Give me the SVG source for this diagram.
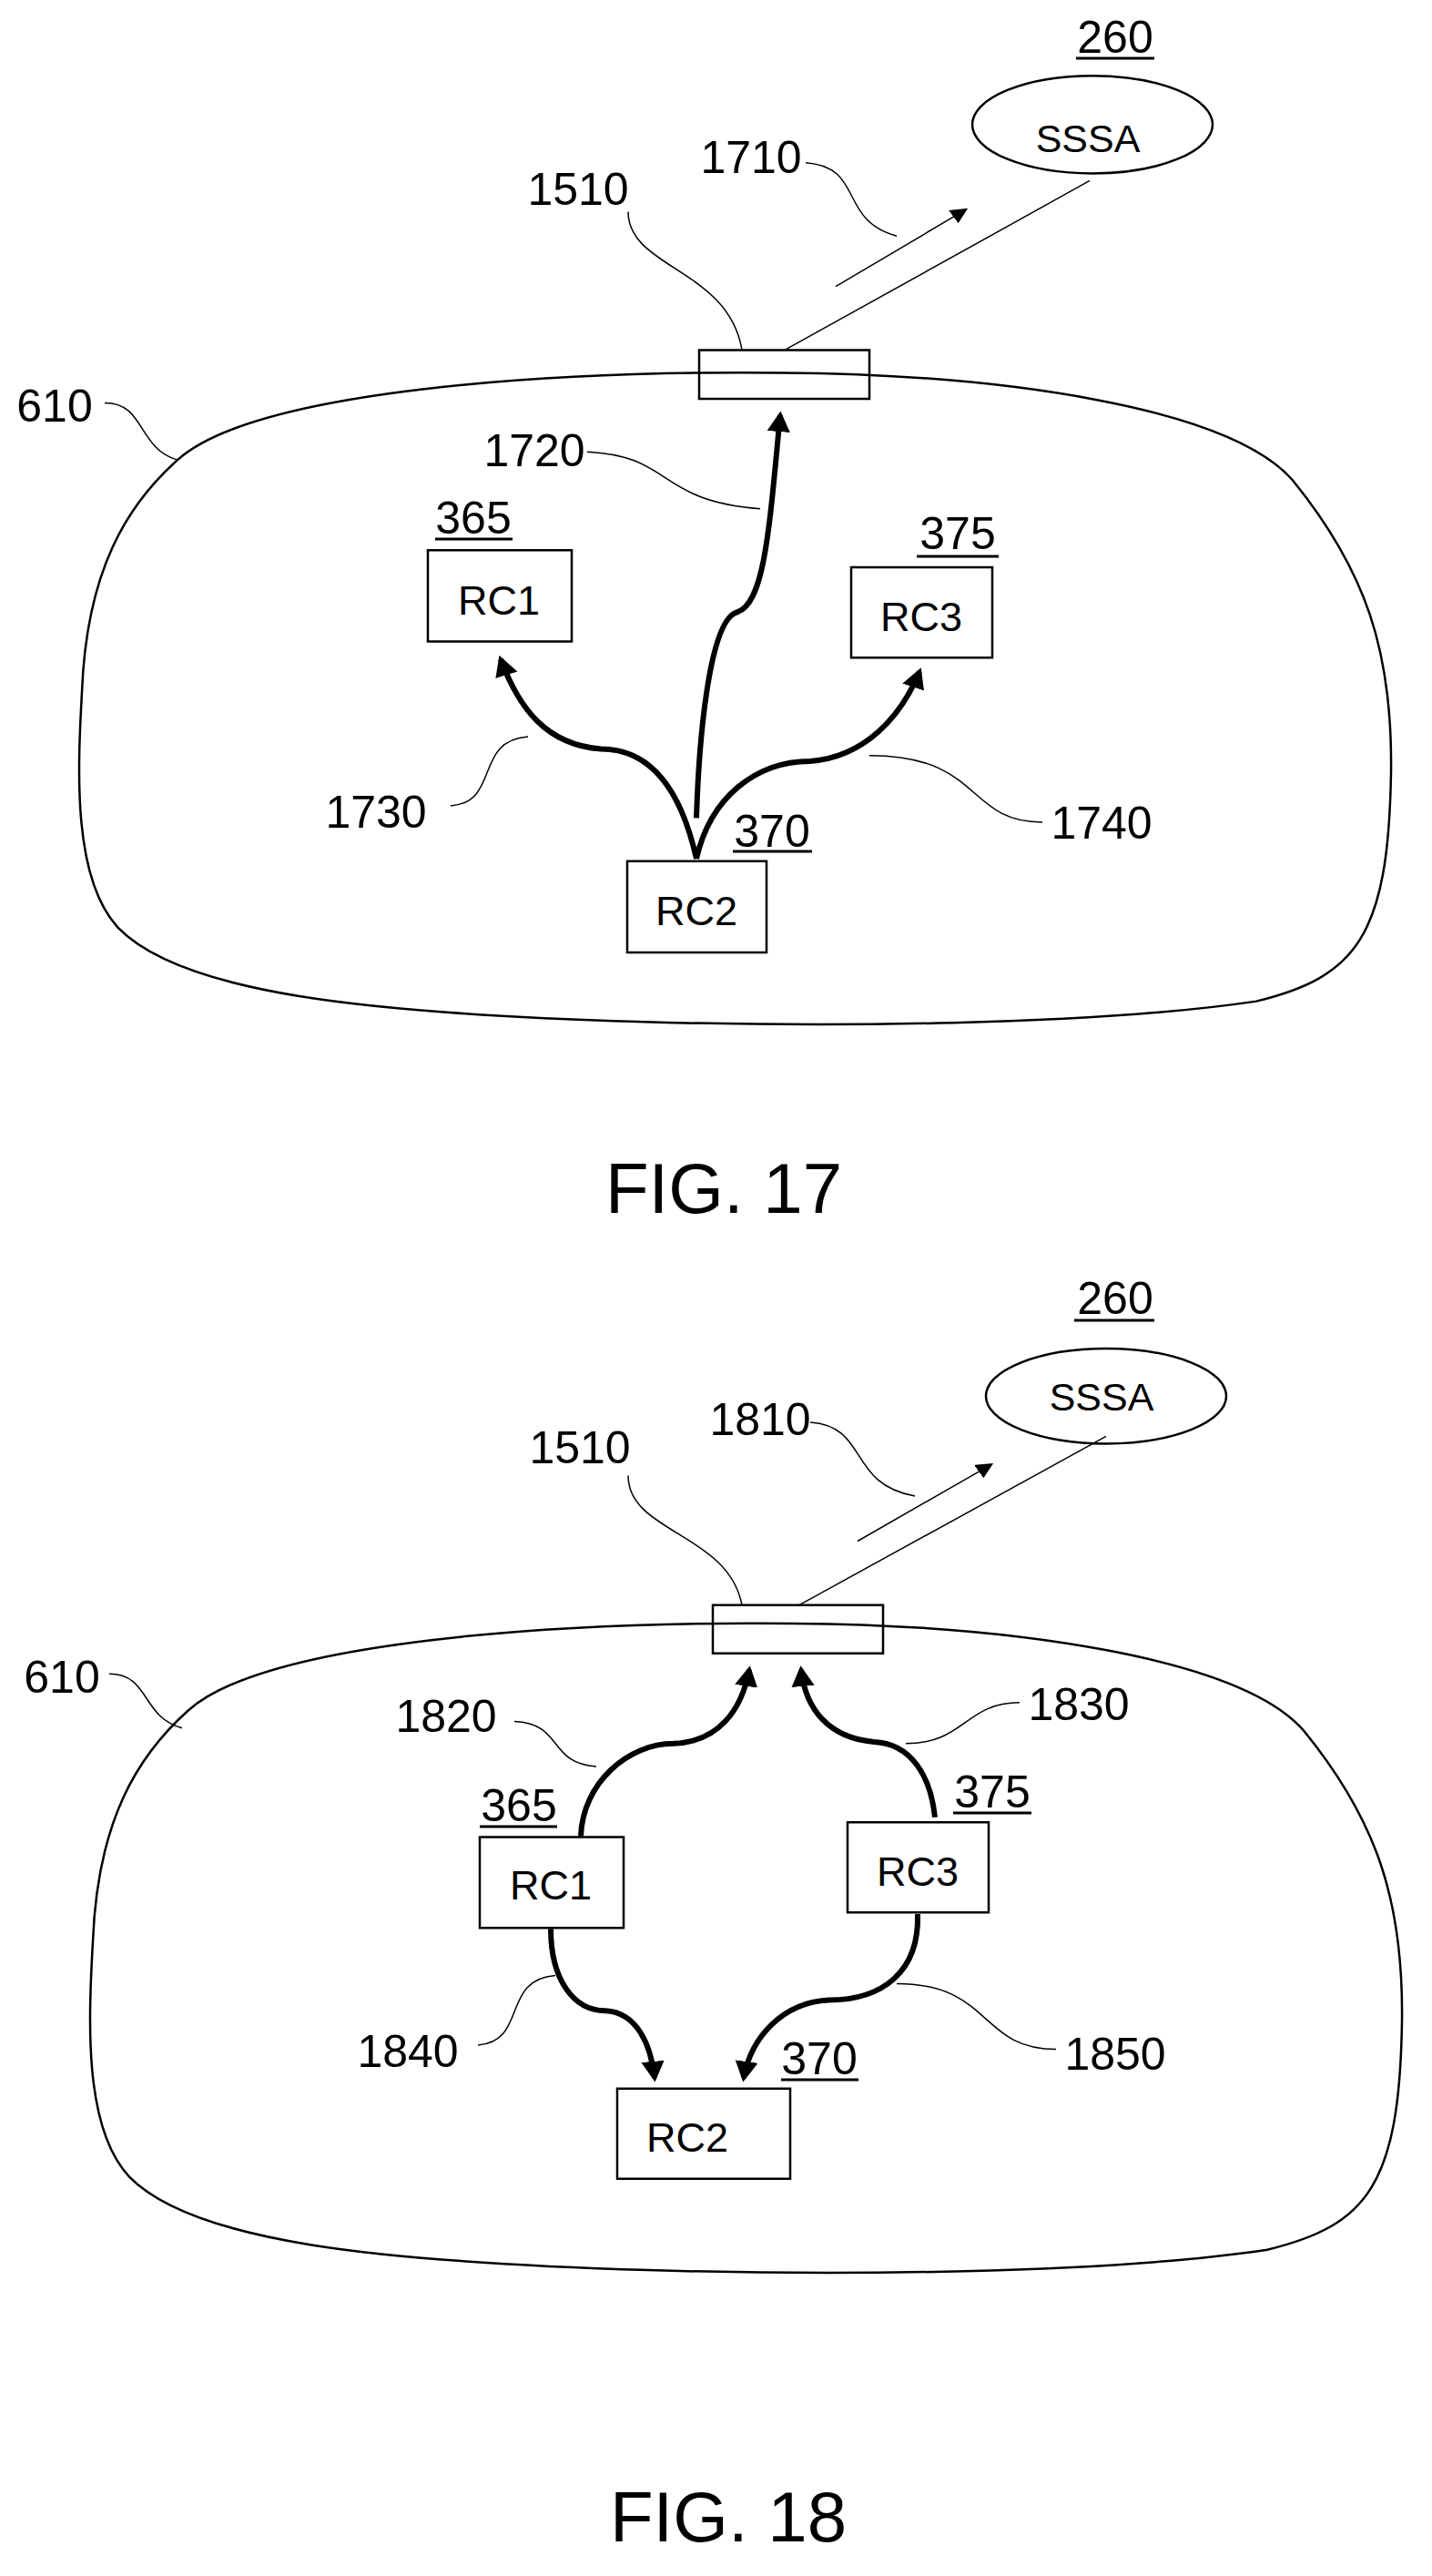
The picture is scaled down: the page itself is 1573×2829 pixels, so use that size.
<svg xmlns="http://www.w3.org/2000/svg" width="1573" height="2829" viewBox="0 0 1573 2829">
<style>
.t{font-family:"Liberation Sans",Arial,sans-serif;font-size:50px;fill:#000;text-anchor:middle}
.b{font-size:45px}.s{font-size:43px}.f{font-size:78px}
.ln{fill:none;stroke:#000;stroke-width:2.5;vector-effect:non-scaling-stroke}
.th{fill:none;stroke:#000;stroke-width:1.5;vector-effect:non-scaling-stroke}
.ar{fill:none;stroke:#000;stroke-width:6;vector-effect:non-scaling-stroke;marker-end:url(#a)}
.bx{fill:#fff;stroke:#000;stroke-width:2.5;vector-effect:non-scaling-stroke}
.u{stroke:#000;stroke-width:3}
</style>
<defs>
<marker id="a" viewBox="0 0 10 10" refX="8" refY="5" markerWidth="4" markerHeight="4" orient="auto" markerUnits="strokeWidth"><path d="M0,0 L10,5 L0,10 z"/></marker>
<marker id="a2" viewBox="0 0 10 10" refX="8" refY="5" markerWidth="12" markerHeight="12" orient="auto" markerUnits="strokeWidth"><path d="M0,0 L10,5 L0,10 z"/></marker>
</defs>
<g id="fig17" transform="scale(1,0.894)">
<g id="connectors17">
<path class="ln" d="M195,565 C280,480 600,455 860,458 C1100,460 1350,500 1420,590 C1500,700 1530,800 1528,950 C1525,1150 1490,1200 1380,1230 C1200,1260 900,1262 700,1255 C400,1245 200,1220 130,1140 C80,1080 85,950 90,850 C95,700 140,620 195,565 Z"/>
<path class="th" d="M115,495 C160,495 150,550 195,565"/>
<path class="th" d="M690,260 C690,330 800,330 815,430"/>
<path class="th" d="M885,200 C950,205 920,270 985,290"/>
<line class="th" x1="918" y1="352" x2="1060" y2="258" style="marker-end:url(#a2)"/>
<line class="th" x1="1197" y1="222" x2="862" y2="430"/>
<path class="th" d="M645,555 C740,560 720,615 835,625"/>
<path class="th" d="M495,990 C550,985 520,910 580,905"/>
<path class="th" d="M1145,1010 C1060,1010 1080,928 955,928"/>
<path class="ar" d="M765,1005 C768,900 780,760 810,752 C840,740 845,650 857,510"/>
<path class="ar" d="M765,1055 C750,980 720,920 660,920 C600,915 570,870 550,810"/>
<path class="ar" d="M765,1055 C780,980 830,935 890,935 C950,930 990,880 1010,825"/>
</g>
<g id="n1510a"><rect class="bx" x="768" y="430" width="187" height="60" style="fill:none"/></g>
<g id="n260a"><ellipse class="ln" cx="1200" cy="153" rx="132" ry="60"/></g>
<g id="rc1a"><rect class="bx" x="470" y="676" width="158" height="112"/></g>
<g id="rc3a"><rect class="bx" x="935" y="697" width="155" height="111"/></g>
<g id="rc2a"><rect class="bx" x="689" y="1058" width="153" height="112"/></g>
</g>
<g id="labels17">
<text class="t" x="1225" y="58">260</text><line class="u" x1="1182" y1="64" x2="1268" y2="64"/>
<text class="t s" x="1195" y="167">SSSA</text>
<text class="t" x="825" y="190">1710</text>
<text class="t" x="635" y="225">1510</text>
<text class="t" x="60" y="463">610</text>
<text class="t" x="587" y="512">1720</text>
<text class="t" x="520" y="586">365</text><line class="u" x1="478" y1="592" x2="563" y2="592"/>
<text class="t" x="1052" y="603">375</text><line class="u" x1="1007" y1="611" x2="1097" y2="611"/>
<text class="t b" x="548" y="675">RC1</text>
<text class="t b" x="1012" y="693">RC3</text>
<text class="t" x="413" y="909">1730</text>
<text class="t" x="848" y="930">370</text><line class="u" x1="805" y1="935" x2="892" y2="935"/>
<text class="t" x="1210" y="921">1740</text>
<text class="t b" x="765" y="1016">RC2</text>
<text class="t f" x="795" y="1332">FIG. 17</text>
</g>
<g id="fig18" transform="translate(0,1400) scale(1,0.9)">
<g id="connectors18">
<path class="ln" d="M207,565 C292,480 612,455 872,458 C1112,460 1362,500 1432,590 C1512,700 1542,800 1540,950 C1537,1150 1502,1200 1392,1230 C1212,1260 912,1262 712,1255 C412,1245 212,1220 142,1140 C92,1080 97,950 102,850 C107,700 152,620 207,565 Z" transform="translate(0,-28) scale(1,0.99)"/>
<path class="th" d="M120,487 C165,487 155,540 200,553"/>
<path class="th" d="M690,245 C690,315 800,315 815,403"/>
<path class="th" d="M890,180 C955,185 930,255 1005,270"/>
<line class="th" x1="942" y1="325" x2="1088" y2="232" style="marker-end:url(#a2)"/>
<line class="th" x1="1215" y1="197" x2="878" y2="403"/>
<path class="th" d="M565,545 C620,548 600,595 655,600"/>
<path class="th" d="M1120,522 C1060,522 1060,572 995,572"/>
<path class="th" d="M525,940 C580,935 550,860 610,855"/>
<path class="th" d="M1160,945 C1075,945 1090,865 985,865"/>
<path class="ar" d="M638,685 C640,620 690,572 740,572 C790,570 815,530 823,482"/>
<path class="ar" d="M1027,662 C1022,610 1000,572 960,570 C910,565 885,530 880,482"/>
<path class="ar" d="M605,798 C605,860 630,898 665,898 C700,900 715,940 719,980"/>
<path class="ar" d="M1008,780 C1010,850 970,885 910,885 C860,888 825,930 817,980"/>
</g>
<g id="n1510b"><rect class="bx" x="783" y="403" width="187" height="59" style="fill:none"/></g>
<g id="n260b"><ellipse class="ln" cx="1215" cy="148" rx="132" ry="58"/></g>
<g id="rc1b"><rect class="bx" x="527" y="686" width="158" height="111"/></g>
<g id="rc3b"><rect class="bx" x="931" y="668" width="155" height="110"/></g>
<g id="rc2b"><rect class="bx" x="678" y="993" width="190" height="110"/></g>
</g>
<g id="labels18">
<text class="t" x="1225" y="1443">260</text><line class="u" x1="1180" y1="1450" x2="1268" y2="1450"/>
<text class="t s" x="1210" y="1549">SSSA</text>
<text class="t" x="835" y="1576">1810</text>
<text class="t" x="637" y="1607">1510</text>
<text class="t" x="68" y="1859">610</text>
<text class="t" x="490" y="1902">1820</text>
<text class="t" x="1185" y="1889">1830</text>
<text class="t" x="570" y="2000">365</text><line class="u" x1="527" y1="2006" x2="612" y2="2006"/>
<text class="t" x="1090" y="1985">375</text><line class="u" x1="1047" y1="1991" x2="1133" y2="1991"/>
<text class="t b" x="605" y="2086">RC1</text>
<text class="t b" x="1008" y="2071">RC3</text>
<text class="t" x="448" y="2270">1840</text>
<text class="t" x="1225" y="2273">1850</text>
<text class="t" x="900" y="2278">370</text><line class="u" x1="858" y1="2284" x2="943" y2="2284"/>
<text class="t b" x="755" y="2363">RC2</text>
<text class="t f" x="800" y="2791">FIG. 18</text>
</g>
</svg>
